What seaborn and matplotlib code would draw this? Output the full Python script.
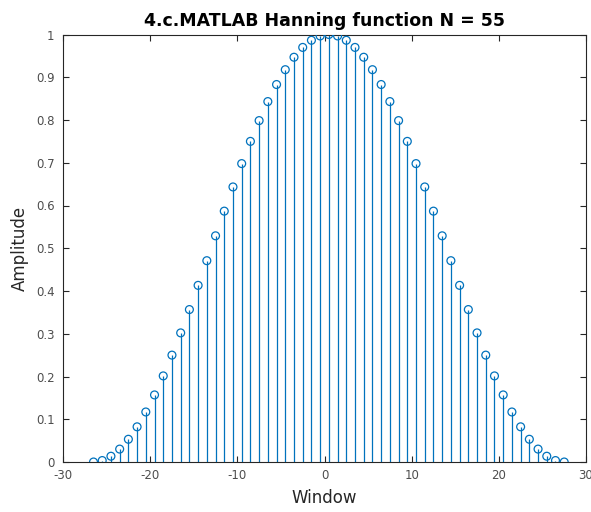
import numpy as np
import pandas as pd
import matplotlib
matplotlib.use("Agg")
import matplotlib.pyplot as plt
import seaborn as sns

# Sample positions (window index axis)
window = [-26.5, -25.5, -24.5, -23.5, -22.5, -21.5, -20.5, -19.5, -18.5, -17.5,
          -16.5, -15.5, -14.5, -13.5, -12.5, -11.5, -10.5, -9.5, -8.5, -7.5,
          -6.5, -5.5, -4.5, -3.5, -2.5, -1.5, -0.5, 0.5, 1.5, 2.5,
          3.5, 4.5, 5.5, 6.5, 7.5, 8.5, 9.5, 10.5, 11.5, 12.5,
          13.5, 14.5, 15.5, 16.5, 17.5, 18.5, 19.5, 20.5, 21.5, 22.5,
          23.5, 24.5, 25.5, 26.5, 27.5]

# Amplitudes (rising half, peak, falling half)
rise = [0.0, 0.0034, 0.0135, 0.0302, 0.0532, 0.0823, 0.1170, 0.1569, 0.2014,
        0.2500, 0.3020, 0.3566, 0.4132, 0.4709, 0.5291, 0.5868, 0.6434,
        0.6980, 0.7500, 0.7986, 0.8431, 0.8830, 0.9177, 0.9468, 0.9698,
        0.9865, 0.9966]
peak = [1.0]
fall = [0.9966, 0.9865, 0.9698, 0.9468, 0.9177, 0.8830, 0.8431, 0.7986,
        0.7500, 0.6980, 0.6434, 0.5868, 0.5291, 0.4709, 0.4132, 0.3566,
        0.3020, 0.2500, 0.2014, 0.1569, 0.1170, 0.0823, 0.0532, 0.0302,
        0.0135, 0.0034, 0.0]
amplitude = rise + peak + fall

xticks = [-30, -20, -10, 0, 10, 20, 30]
yticks = [0, 0.1, 0.2, 0.3, 0.4, 0.5, 0.6, 0.7, 0.8, 0.9, 1]
ytick_labels = ["0", "0.1", "0.2", "0.3", "0.4", "0.5", "0.6", "0.7", "0.8", "0.9", "1"]

df = pd.DataFrame({"Window": window, "Amplitude": amplitude})

sns.set_style("white")
plt.rcParams['font.family'] = ['DejaVu Sans']

color = "#0072BD"
fig = plt.figure(figsize=(5.91, 5.12), dpi=100)
ax = fig.add_axes([63 / 591, 1 - 462 / 512, (586 - 63) / 591, (462 - 34.5) / 512])

ax.vlines(df["Window"], 0, df["Amplitude"], color=color, linewidth=0.9, zorder=2)
sns.scatterplot(data=df, x="Window", y="Amplitude", ax=ax, marker="o", s=32,
                facecolor="none", edgecolor=color, linewidth=0.9, zorder=3,
                legend=False)

ax.set_xlim(-30, 30)
ax.set_ylim(0, 1)
ax.set_xticks(xticks)
ax.set_xticklabels([str(t) for t in xticks])
ax.set_yticks(yticks)
ax.set_yticklabels(ytick_labels)

for s in ax.spines.values():
    s.set_visible(True)
    s.set_color("#262626")
    s.set_linewidth(0.8)

ax.tick_params(axis="both", which="both", direction="in", length=4, width=0.8,
               colors="#262626", labelcolor="#4d4d4d", labelsize=8.5,
               top=True, right=True, bottom=True, left=True)
ax.tick_params(axis="y", pad=6)
ax.tick_params(axis="x", pad=5)

ax.set_title("4.c.MATLAB Hanning function N = 55", fontsize=12.5,
             fontweight="bold", color="black", pad=6)
ax.set_xlabel("Window", fontsize=12, color="#262626", labelpad=5)
ax.set_ylabel("Amplitude", fontsize=12, color="#262626", labelpad=5)

fig.savefig("out.png", dpi=100)
